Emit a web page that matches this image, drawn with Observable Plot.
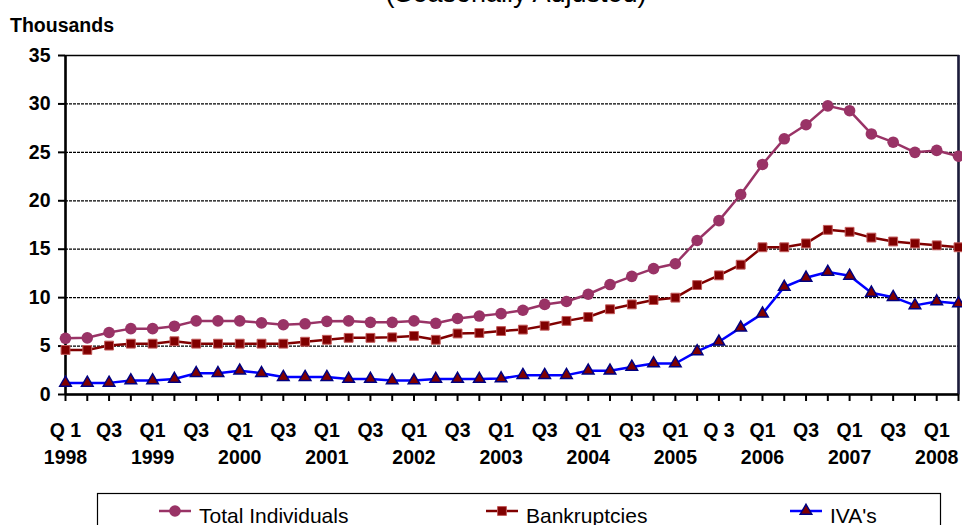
<!DOCTYPE html>
<html>
<head>
<meta charset="utf-8">
<script src="https://cdn.jsdelivr.net/npm/d3@7"></script>
<script src="https://cdn.jsdelivr.net/npm/@observablehq/plot@0.6"></script>
<style>
  html, body { margin: 0; padding: 0; background: #fff; }
  #wrap { position: relative; width: 962px; height: 525px; overflow: hidden; background: #fff; }
  #chart { position: absolute; left: 0; top: 0; }
  #overlay { position: absolute; left: 0; top: 0; }
</style>
</head>
<body>
<div id="wrap">
  <div id="chart"></div>
  <svg id="overlay" width="962" height="525"></svg>
</div>
<script>
// ---- Data ----
const quarters = [
  "1998 Q1","1998 Q2","1998 Q3","1998 Q4",
  "1999 Q1","1999 Q2","1999 Q3","1999 Q4",
  "2000 Q1","2000 Q2","2000 Q3","2000 Q4",
  "2001 Q1","2001 Q2","2001 Q3","2001 Q4",
  "2002 Q1","2002 Q2","2002 Q3","2002 Q4",
  "2003 Q1","2003 Q2","2003 Q3","2003 Q4",
  "2004 Q1","2004 Q2","2004 Q3","2004 Q4",
  "2005 Q1","2005 Q2","2005 Q3","2005 Q4",
  "2006 Q1","2006 Q2","2006 Q3","2006 Q4",
  "2007 Q1","2007 Q2","2007 Q3","2007 Q4",
  "2008 Q1","2008 Q2"
];
const totalIndividuals = [
  5.8, 5.85, 6.4, 6.8,
  6.8, 7.05, 7.6, 7.6,
  7.6, 7.4, 7.2, 7.3,
  7.55, 7.6, 7.45, 7.45,
  7.6, 7.35, 7.85, 8.1,
  8.35, 8.7, 9.3, 9.6,
  10.35, 11.35, 12.2, 13.0,
  13.5, 15.9, 17.95, 20.65,
  23.75, 26.4, 27.85, 29.8,
  29.3, 26.9, 26.05, 25.0,
  25.2, 24.6
];
const bankruptcies = [
  4.6, 4.6, 5.05, 5.25,
  5.25, 5.5, 5.25, 5.25,
  5.25, 5.25, 5.25, 5.45,
  5.65, 5.85, 5.85, 5.9,
  6.05, 5.65, 6.3, 6.35,
  6.55, 6.7, 7.1, 7.6,
  8.0, 8.8, 9.3, 9.75,
  10.0, 11.3, 12.3, 13.4,
  15.2, 15.2, 15.6, 17.0,
  16.8, 16.2, 15.8, 15.6,
  15.4, 15.2
];
const ivas = [
  1.2, 1.2, 1.2, 1.45,
  1.45, 1.6, 2.2, 2.2,
  2.45, 2.2, 1.8, 1.8,
  1.8, 1.6, 1.6, 1.45,
  1.45, 1.6, 1.6, 1.6,
  1.65, 2.0, 2.0, 2.0,
  2.45, 2.45, 2.85, 3.2,
  3.2, 4.45, 5.45, 6.9,
  8.35, 11.1, 12.05, 12.65,
  12.25, 10.5, 10.05, 9.2,
  9.6, 9.4
];
const quarterTickLabels = [
  "Q 1","","Q3","",
  "Q1","","Q3","",
  "Q1","","Q3","",
  "Q1","","Q3","",
  "Q1","","Q3","",
  "Q1","","Q3","",
  "Q1","","Q3","",
  "Q1","","Q 3","",
  "Q1","","Q3","",
  "Q1","","Q3","",
  "Q1",""
];
const yearTickLabels = quarters.map(q => q.endsWith("Q1") ? q.slice(0, 4) : "");
const yTicks = [0, 5, 10, 15, 20, 25, 30, 35];
const gridValues = [5, 10, 15, 20, 25, 30];
const seriesNames = ["Total Individuals", "Bankruptcies", "IVA's"];
const titleText = "(Seasonally Adjusted)";
const yUnitText = "Thousands";

// ---- Styles ----
const styles = [
  {line: "#993366", symbol: "circle", r: 5.8, fill: "#993366", stroke: "none", sw: 0},
  {line: "#800000", symbol: "square", r: 5, fill: "#800000", stroke: "#c25a5a", sw: 1},
  {line: "#0000ff", symbol: "triangle", r: 4.3, fill: "#800000", stroke: "#000080", sw: 1.5}
];
const seriesValues = [totalIndividuals, bankruptcies, ivas];
const series = seriesValues.map(vals => quarters.map((q, i) => ({q, v: vals[i]})));

const marks = [
  Plot.ruleY(gridValues, {stroke: "#000", strokeWidth: 1.2, strokeDasharray: "3,1"}),
  Plot.frame({stroke: "#000", strokeWidth: 1.5}),
  Plot.ruleX([quarters[quarters.length - 1]], {stroke: "#1c1c3c", strokeWidth: 2.5}),
  Plot.ruleY([0], {stroke: "#000", strokeWidth: 2.5}),
  Plot.ruleX([quarters[0]], {stroke: "#000", strokeWidth: 2.5}),
  Plot.axisY({ticks: yTicks, tickSize: 7, tickPadding: 8, tickFormat: d => String(d), label: null, strokeWidth: 2}),
  Plot.axisX({ticks: quarters, tickSize: 7, tickPadding: 22, label: null, strokeWidth: 2,
    tickFormat: d => quarterTickLabels[quarters.indexOf(d)]}),
  Plot.axisX({ticks: quarters, tickSize: 0, tickPadding: 56, label: null,
    tickFormat: d => yearTickLabels[quarters.indexOf(d)]})
];
series.forEach((data, k) => {
  const s = styles[k];
  marks.push(Plot.line(data, {x: "q", y: "v", stroke: s.line, strokeWidth: 2.5}));
  marks.push(Plot.dot(data, {x: "q", y: "v", symbol: s.symbol, r: s.r, fill: s.fill,
    stroke: s.stroke, strokeWidth: s.sw}));
});

const chart = Plot.plot({
  width: 962,
  height: 480,
  marginLeft: 65,
  marginRight: 4,
  marginTop: 55,
  marginBottom: 86,
  x: {type: "point", domain: quarters, padding: 0, axis: null},
  y: {domain: [0, 35], axis: null},
  style: {
    fontFamily: "'Liberation Sans', Arial, sans-serif",
    fontSize: "19.5px",
    fontWeight: "bold",
    color: "#000",
    background: "transparent",
    overflow: "visible"
  },
  marks
});
document.getElementById("chart").appendChild(chart);

// ---- Overlay: title, unit label, legend ----
const ov = d3.select("#overlay").style("font-family", "'Liberation Sans', Arial, sans-serif");
ov.append("text").attr("x", 516).attr("y", 2).attr("text-anchor", "middle")
  .attr("font-size", 27).attr("fill", "#000").text(titleText);
ov.append("text").attr("x", 10).attr("y", 31.5).attr("font-size", 19.5)
  .attr("font-weight", "bold").attr("fill", "#000").text(yUnitText);

ov.append("rect").attr("x", 97.5).attr("y", 493.5).attr("width", 843).attr("height", 60)
  .attr("fill", "#fff").attr("stroke", "#000").attr("stroke-width", 1.2);
const legendX = [159, 486, 790];
const legendY = 511;
seriesNames.forEach((name, k) => {
  const s = styles[k];
  const x0 = legendX[k];
  ov.append("line").attr("x1", x0).attr("x2", x0 + 32).attr("y1", legendY).attr("y2", legendY)
    .attr("stroke", s.line).attr("stroke-width", 2.5);
  const sym = {circle: d3.symbolCircle, square: d3.symbolSquare, triangle: d3.symbolTriangle}[s.symbol];
  ov.append("path").attr("d", d3.symbol(sym, Math.PI * s.r * s.r)())
    .attr("transform", `translate(${x0 + 16},${legendY})`)
    .attr("fill", s.fill).attr("stroke", s.stroke).attr("stroke-width", s.sw);
  ov.append("text").attr("x", x0 + 40).attr("y", 523).attr("font-size", 21)
    .attr("fill", "#000").text(name);
});
</script>
</body>
</html>
